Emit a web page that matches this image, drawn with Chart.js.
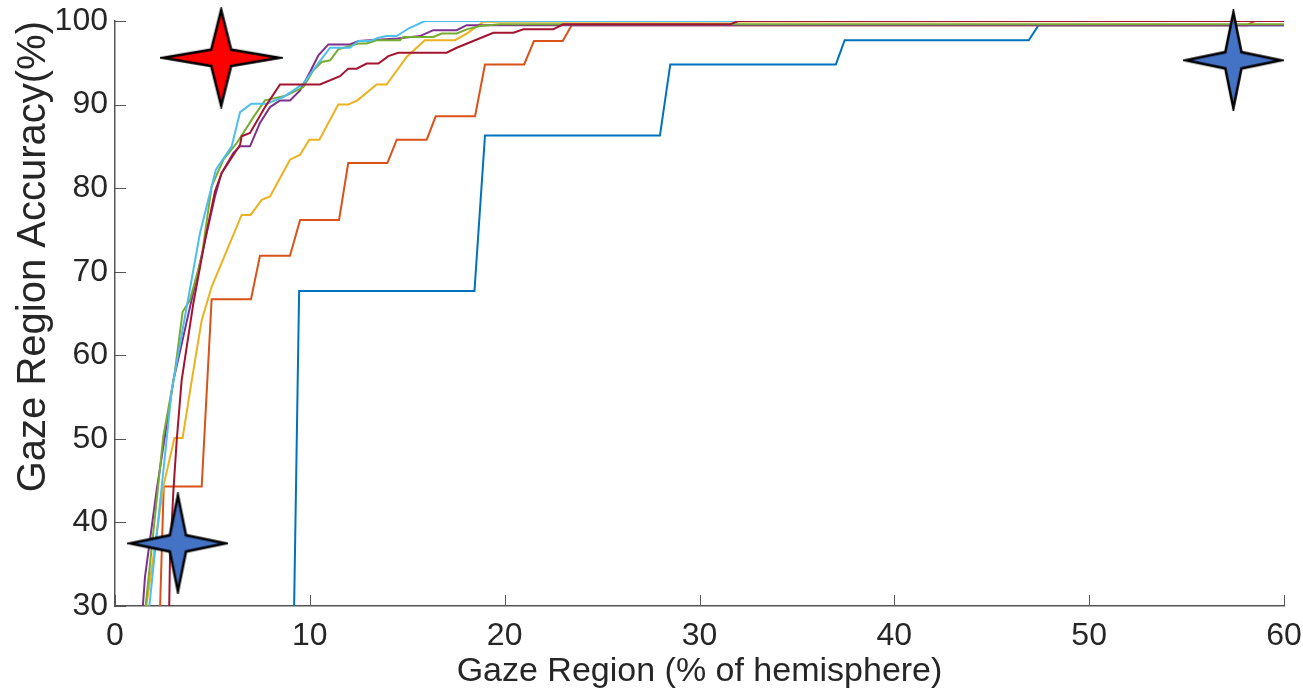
<!DOCTYPE html>
<html>
<head>
<meta charset="utf-8">
<script src="https://cdn.jsdelivr.net/npm/chart.js@4.4.1/dist/chart.umd.min.js"></script>
<style>
  html, body { margin: 0; padding: 0; background: #fff; }
</style>
</head>
<body>
<canvas id="chart" width="1303" height="698"></canvas>
<script>
// curves (x = % of hemisphere, y = accuracy %)
const blueX = [9.18, 9.45, 18.45, 18.99, 27.97, 28.5, 37.0, 37.45, 46.9, 47.4, 60];
const blueY = [28, 67.7, 67.7, 86.3, 86.3, 94.8, 94.8, 97.7, 97.7, 99.5, 99.5];

const orangeX = [2.29, 2.5, 4.45, 4.96, 6.98, 7.44, 8.98, 9.5, 11.5, 11.97, 13.98, 14.46, 16.0, 16.46, 18.48, 18.99, 21.0, 21.5, 22.98, 23.44, 58.1, 58.5, 60];
const orangeY = [28, 44.3, 44.3, 66.7, 66.7, 71.9, 71.9, 76.2, 76.2, 83.0, 83.0, 85.8, 85.8, 88.6, 88.6, 94.8, 94.8, 97.6, 97.6, 99.5, 99.5, 100, 100];

const yellowX = [1.55, 2.48, 3.05, 3.47, 3.94, 4.45, 4.96, 6.5, 6.96, 7.53, 7.96, 8.98, 9.5, 9.97, 10.49, 11.46, 11.97, 12.44, 13.43, 13.94, 14.97, 15.9, 17.45, 18.05, 18.9, 60];
const yellowY = [29, 44.3, 50.1, 50.1, 57.0, 64.2, 68.2, 76.8, 76.8, 78.6, 79.0, 83.4, 84.0, 85.8, 85.8, 90.0, 90.0, 90.5, 92.4, 92.4, 95.7, 97.7, 97.7, 98.5, 99.9, 100];

const purpleX = [1.4, 1.54, 2.14, 3.0, 5.13, 5.47, 6.07, 6.42, 6.93, 7.44, 7.96, 8.47, 8.98, 9.5, 10.01, 10.44, 10.95, 12.06, 12.5, 14.5, 15.65, 16.34, 17.54, 18.05, 60];
const purpleY = [29, 33.5, 43.9, 57.0, 79.0, 81.8, 84.2, 85.0, 85.0, 87.8, 89.7, 90.5, 90.5, 91.7, 93.9, 95.9, 97.2, 97.2, 97.6, 97.9, 98.2, 98.9, 98.9, 99.5, 99.5];

const greenX = [1.55, 2.48, 3.0, 3.08, 3.47, 3.85, 4.45, 4.96, 5.56, 6.25, 7.19, 7.7, 8.81, 9.67, 10.18, 10.61, 11.04, 11.46, 12.49, 12.92, 13.43, 14.63, 14.8, 16.34, 16.77, 17.54, 18.05, 18.73, 19.76, 60];
const greenY = [29.5, 50.3, 57.0, 58.2, 65.2, 66.6, 71.8, 80.2, 83.4, 85.4, 88.8, 90.5, 91.1, 92.1, 94.1, 95.1, 95.3, 96.6, 97.3, 97.3, 97.7, 97.7, 98.1, 98.1, 98.5, 98.5, 99.0, 99.4, 99.6, 99.6];

const cyanX = [1.72, 2.91, 4.36, 4.79, 5.18, 5.99, 6.42, 7.0, 7.79, 8.64, 9.67, 10.35, 11.04, 12.06, 12.49, 13.09, 13.52, 13.94, 14.46, 15.06, 15.9, 60];
const cyanY = [29, 55.8, 74.6, 78.6, 82.2, 85.0, 89.1, 90.1, 90.1, 90.9, 92.5, 94.7, 96.8, 96.8, 97.6, 97.6, 98.0, 98.2, 98.2, 99.1, 100, 100];

const darkRedX = [2.77, 2.82, 3.0, 3.17, 3.42, 4.02, 4.62, 5.13, 5.47, 6.42, 6.5, 6.93, 7.7, 8.47, 10.52, 11.55, 11.97, 12.4, 12.92, 13.52, 14.03, 14.54, 17.02, 17.54, 19.42, 20.45, 20.96, 22.5, 23.0, 31.57, 32.0, 60];
const darkRedY = [28, 35.5, 43.9, 49.9, 57.0, 66.2, 73.8, 79.6, 81.8, 85.2, 86.2, 86.6, 89.7, 92.4, 92.4, 93.4, 94.3, 94.3, 94.9, 94.9, 95.8, 96.2, 96.2, 96.8, 98.6, 98.6, 99.0, 99.0, 99.6, 99.6, 100, 100];

// star markers
const starX = [5.45, 3.23, 57.4];
const starY = [95.6, 37.5, 95.3];
const starColors = ['#ff0000', '#4472c4', '#4472c4'];
const starSizes = [[117, 96], [95, 96], [95, 96]];

const xTicks = [0, 10, 20, 30, 40, 50, 60];
const yTicks = [30, 40, 50, 60, 70, 80, 90, 100];

const FONT = "'Liberation Sans', Arial, Helvetica, sans-serif";
const TEXT = '#262626';

function pts(xs, ys) {
  return xs.map((x, i) => ({ x: x, y: ys[i] }));
}

function makeStar(color, w, h) {
  const c = document.createElement('canvas');
  c.width = w + 6;
  c.height = h + 6;
  const g = c.getContext('2d');
  const cx = c.width / 2, cy = c.height / 2;
  const a = w * 0.085, b = h * 0.085;
  g.beginPath();
  g.moveTo(cx, cy - h / 2);
  g.lineTo(cx + a, cy - b);
  g.lineTo(cx + w / 2, cy);
  g.lineTo(cx + a, cy + b);
  g.lineTo(cx, cy + h / 2);
  g.lineTo(cx - a, cy + b);
  g.lineTo(cx - w / 2, cy);
  g.lineTo(cx - a, cy - b);
  g.closePath();
  g.fillStyle = color;
  g.fill();
  g.lineWidth = 2.5;
  g.lineJoin = 'miter';
  g.strokeStyle = '#000';
  g.stroke();
  return c;
}

function line(xs, ys, color, order) {
  return {
    type: 'line',
    data: pts(xs, ys),
    borderColor: color,
    borderWidth: 2,
    pointRadius: 0,
    fill: false,
    tension: 0,
    order: order
  };
}

// MATLAB-style tick marks pointing into the plot
const innerTicks = {
  id: 'innerTicks',
  beforeDatasetsDraw(chart) {
    const ctx = chart.ctx;
    const xs = chart.scales.x, ys = chart.scales.y;
    const area = chart.chartArea;
    ctx.save();
    ctx.strokeStyle = '#555';
    ctx.lineWidth = 1;
    xs.ticks.forEach(t => {
      const px = Math.round(xs.getPixelForValue(t.value)) + 0.5;
      ctx.beginPath();
      ctx.moveTo(px, area.bottom);
      ctx.lineTo(px, area.bottom - 11);
      ctx.stroke();
    });
    ys.ticks.forEach(t => {
      const py = Math.round(ys.getPixelForValue(t.value)) + 0.5;
      ctx.beginPath();
      ctx.moveTo(area.left, py);
      ctx.lineTo(area.left + 11, py);
      ctx.stroke();
    });
    ctx.restore();
  }
};

const stars = {
  type: 'scatter',
  data: pts(starX, starY),
  pointStyle: starColors.map((c, i) => makeStar(c, starSizes[i][0], starSizes[i][1])),
  pointRadius: 10,
  clip: false,
  order: 0
};

new Chart(document.getElementById('chart'), {
  type: 'line',
  data: {
    datasets: [
      stars,
      line(darkRedX, darkRedY, '#A2142F', 1),
      line(cyanX, cyanY, '#4DBEEE', 2),
      line(greenX, greenY, '#77AC30', 3),
      line(purpleX, purpleY, '#7E2F8E', 4),
      line(yellowX, yellowY, '#EDB120', 5),
      line(orangeX, orangeY, '#D95319', 6),
      line(blueX, blueY, '#0072BD', 7)
    ]
  },
  options: {
    responsive: false,
    animation: false,
    events: [],
    layout: { padding: { top: 21, right: 19, left: 0, bottom: 0 } },
    plugins: { legend: { display: false }, tooltip: { enabled: false } },
    scales: {
      x: {
        type: 'linear',
        min: 0,
        max: 60,
        afterBuildTicks: s => { s.ticks = xTicks.map(v => ({ value: v })); },
        afterFit: s => { s.height = 92; s.paddingLeft = 0; s.paddingRight = 0; },
        grid: { display: false, drawTicks: false },
        border: { display: true, color: '#555', width: 1.5 },
        ticks: { color: TEXT, font: { family: FONT, size: 32 }, padding: 11, maxRotation: 0 },
        title: {
          display: true,
          text: 'Gaze Region (% of hemisphere)',
          color: TEXT,
          font: { family: FONT, size: 34 },
          padding: { top: 0, bottom: 6 }
        }
      },
      y: {
        type: 'linear',
        min: 30,
        max: 100,
        afterBuildTicks: s => { s.ticks = yTicks.map(v => ({ value: v })); },
        afterFit: s => { s.width = 115; s.paddingTop = 0; s.paddingBottom = 0; },
        grid: { display: false, drawTicks: false },
        border: { display: true, color: '#555', width: 1.5 },
        ticks: { color: TEXT, font: { family: FONT, size: 32 }, padding: 7 },
        title: {
          display: true,
          text: 'Gaze Region Accuracy(%)',
          align: 'end',
          color: TEXT,
          font: { family: FONT, size: 40 },
          padding: { top: 10, bottom: 0 }
        }
      }
    }
  },
  plugins: [innerTicks]
});
</script>
</body>
</html>
